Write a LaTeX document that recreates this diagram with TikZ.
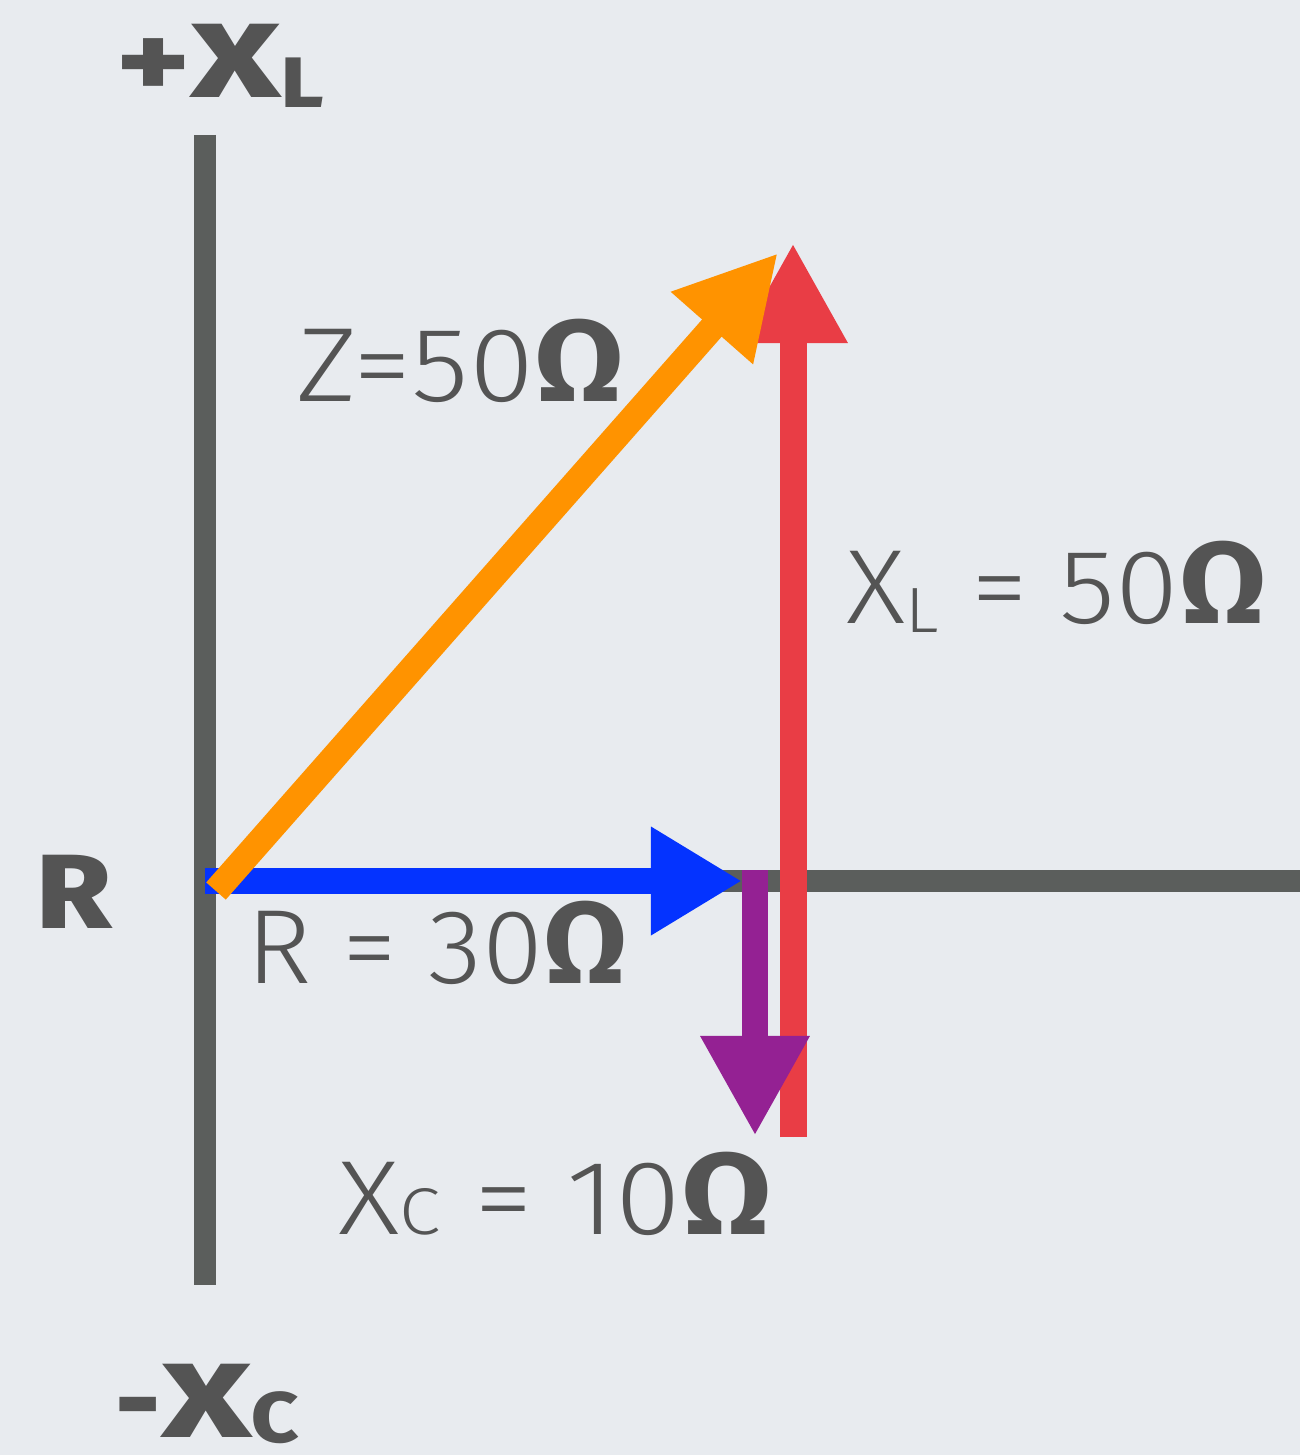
\documentclass[tikz,border=0pt]{standalone}
\usepackage{fontspec}
\usetikzlibrary{arrows.meta}
\IfFontExistsTF{Fira Sans Light}{\newfontfamily\lightf{Fira Sans Light}}{\newfontfamily\lightf{Fira Sans}}
\newfontfamily\boldf{Fira Sans Bold}
\IfFontExistsTF{Fira Sans ExtraBold}{\newfontfamily\heavyf{Fira Sans ExtraBold}}{\newfontfamily\heavyf{Fira Sans Bold}}
\definecolor{bg}{RGB}{232,235,239}
\definecolor{axisgray}{RGB}{91,94,92}
\definecolor{txtgray}{RGB}{84,84,84}
\definecolor{vblue}{RGB}{4,51,255}
\definecolor{vpurple}{RGB}{148,33,147}
\definecolor{vred}{RGB}{233,61,69}
\definecolor{vorange}{RGB}{255,147,0}
\newcommand{\om}{{\boldf\fontsize{33pt}{36pt}\selectfont Ω}}
\newcommand{\subL}{\raisebox{-0.09cm}{\fontsize{18.2pt}{20pt}\selectfont L}}
\newcommand{\subC}{{\fontsize{18.8pt}{20pt}\selectfont C}}
\newcommand{\hstretch}[2]{\scalebox{#1}[1]{#2}}
\newcommand{\bsubL}{\raisebox{-0.09cm}{\fontsize{20.3pt}{22pt}\selectfont\hstretch{1.15}{L}}}
\newcommand{\bsubC}{\raisebox{-0.05cm}{\fontsize{20.3pt}{22pt}\selectfont\hstretch{1.15}{C}}}
\begin{document}
\begin{tikzpicture}[x=0.01cm,y=-0.01cm,
  axisline/.style={draw=axisgray,line width=0.21cm},
  vec/.style={line width=0.26cm,-{Triangle[length=1.0cm,width=1.02cm]}},
  lab/.style={inner sep=0pt,anchor=base west,text=txtgray,font=\lightf\fontsize{30pt}{34pt}\selectfont},
  blab/.style={inner sep=0pt,anchor=base west,text=txtgray,font=\heavyf\fontsize{30pt}{34pt}\selectfont}]
\fill[bg] (0,0) rectangle (1300,1455);
\useasboundingbox (0,0) rectangle (1300,1455);
% points
\coordinate (vtop) at (205,135);
\coordinate (vbot) at (205,1285);
\coordinate (O) at (205,881);
\coordinate (hend) at (1300,881);
\coordinate (Rtip) at (742,881);
\coordinate (Cstart) at (755,870);
\coordinate (Ctip) at (755,1136);
\coordinate (Lstart) at (793,1137);
\coordinate (Ltip) at (793,243);
\coordinate (Zstart) at (216,891);
\coordinate (Ztip) at (778,253);
% axes
\draw[axisline] (vtop) -- (vbot);
\draw[axisline,line width=0.22cm] (O) -- (hend);
% vectors
\draw[vec,draw=vblue,fill=vblue,-{Triangle[length=0.91cm,width=1.02cm]}] (O) -- (Rtip);
\draw[vec,draw=vred,fill=vred,line width=0.27cm] (Lstart) -- (Ltip);
\draw[vec,draw=vpurple,fill=vpurple] (Cstart) -- (Ctip);
\draw[vec,draw=vorange,fill=vorange] (Zstart) -- (Ztip);
% labels
\node[lab] (zlab) at (296,402) {\hstretch{1.12}{Z=50\om}};
\node[lab] (xllab) at (846,623) {\hstretch{1.09}{X\subL{} = 50\om}};
\node[lab] (rlab) at (246,983) {\hstretch{1.05}{R = 30\om}};
\node[lab] (xclab) at (338,1234) {\hstretch{1.13}{X\subC{} = 10\om}};
\node[blab] (xlax) at (116,98) {\hstretch{1.3}{+}\hstretch{1.45}{X}\bsubL};
\node[blab] (rax) at (36,928) {\hstretch{1.15}{R}};
\node[blab] (xcax) at (115,1437) {\hstretch{1.05}{-}\hstretch{1.45}{X}\bsubC};
\end{tikzpicture}
\end{document}
